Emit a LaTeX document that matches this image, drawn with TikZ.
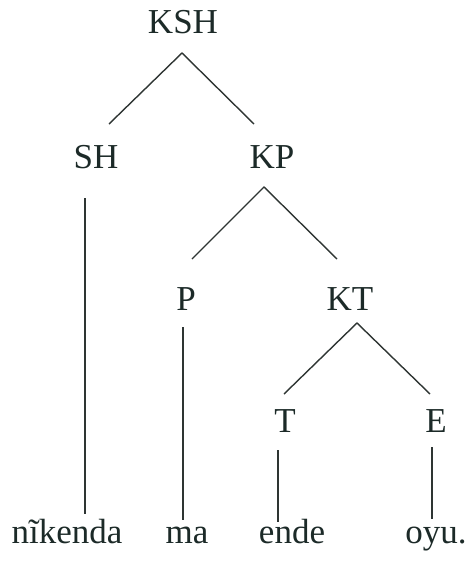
\documentclass[tikz,border=0pt]{standalone}
\usepackage{fontspec}
\setmainfont{Liberation Serif}
\definecolor{ink}{HTML}{1C2A28}
\definecolor{edge}{HTML}{2E3533}
\begin{document}
\begin{tikzpicture}[x=1pt,y=-1pt,
  lab/.style={font=\fontsize{35}{40}\selectfont, text=ink, anchor=base, inner sep=0pt},
  br/.style={draw=edge, line width=1.4pt}]
\useasboundingbox (0,0) rectangle (467,562);
% labels
\node[lab] (KSH) at (183,33) {KSH};
\node[lab] (SH) at (96,168) {SH};
\node[lab] (KP) at (272,168) {KP};
\node[lab] (P) at (186,310) {P};
\node[lab] (KT) at (350,310) {KT};
\node[lab] (T) at (285,432) {T};
\node[lab] (E) at (436,432) {E};
\node[lab] (w1) at (67,543) {nĩkenda};
\node[lab] (w2) at (187,543) {ma};
\node[lab] (w3) at (292,543) {ende};
\node[lab] (w4) at (436,543) {oyu.};
% branch points
\coordinate (kshA) at (182,53);
\coordinate (kshL) at (109,124);
\coordinate (kshR) at (254,124);
\coordinate (kpA) at (264,187);
\coordinate (kpL) at (192,259);
\coordinate (kpR) at (337,259);
\coordinate (ktA) at (357,323);
\coordinate (ktL) at (284,394);
\coordinate (ktR) at (430,394);
\coordinate (shD) at (85,198);
\coordinate (shB) at (85,514);
\coordinate (pD) at (183,327);
\coordinate (pB) at (183,520);
\coordinate (tD) at (278,450);
\coordinate (tB) at (278,522);
\coordinate (eD) at (432,447);
\coordinate (eB) at (432,519);
% branches
\draw[br] (kshL) -- (kshA) -- (kshR);
\draw[br] (kpL) -- (kpA) -- (kpR);
\draw[br] (ktL) -- (ktA) -- (ktR);
\draw[br] (shD) -- (shB);
\draw[br] (pD) -- (pB);
\draw[br] (tD) -- (tB);
\draw[br] (eD) -- (eB);
\end{tikzpicture}
\end{document}
